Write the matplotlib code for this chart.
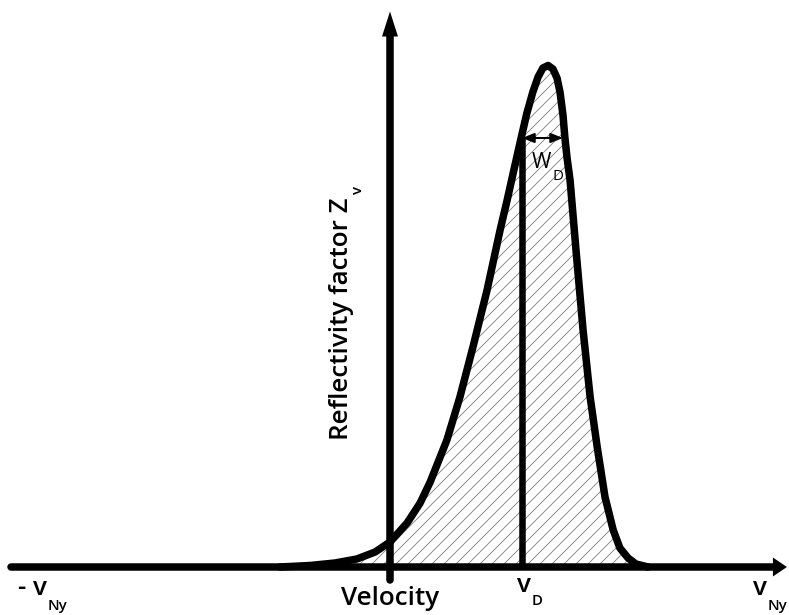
import matplotlib

matplotlib.use("Agg")

import matplotlib.pyplot as plt

# Doppler spectrum sketch: velocity (in units of v_Ny) vs normalised reflectivity
velocity = [-0.296, -0.215, -0.148, -0.089, -0.040, 0.0, 0.046, 0.081, 0.108,
            0.153, 0.188, 0.223, 0.261, 0.296, 0.315, 0.333, 0.350, 0.368,
            0.384, 0.398, 0.411, 0.425, 0.438, 0.449, 0.457, 0.465, 0.470,
            0.476, 0.484, 0.500, 0.519, 0.538, 0.557, 0.578, 0.600, 0.618,
            0.640, 0.661, 0.694]
reflectivity = [0.0, 0.003, 0.008, 0.016, 0.030, 0.050, 0.088, 0.128, 0.170,
                0.254, 0.340, 0.440, 0.554, 0.674, 0.734, 0.794, 0.850, 0.908,
                0.950, 0.980, 0.998, 1.003, 0.996, 0.978, 0.950, 0.904, 0.860,
                0.818, 0.774, 0.634, 0.474, 0.340, 0.240, 0.140, 0.074, 0.038,
                0.018, 0.006, 0.0]

v_nyquist = 1.0
v_doppler = 0.355
z_at_vd = 0.858
w_doppler_end = 0.465

plt.rcParams["font.family"] = ["Open Sans", "DejaVu Sans"]
plt.rcParams["hatch.linewidth"] = 0.9
plt.rcParams["hatch.color"] = "#858585"

fig = plt.figure(figsize=(789 / 72, 615 / 72), dpi=72)
ax = fig.add_axes([0, 0, 1, 1])
ax.set_xlim(-1.0484, 1.0726)
ax.set_ylim(-0.096, 1.134)
ax.axis("off")

# hatched area under the spectrum
ax.fill_between(velocity, reflectivity, 0, facecolor="none", edgecolor="#858585",
                hatch="//", linewidth=0)
ax.plot(velocity, reflectivity, color="black", lw=7.5,
        solid_joinstyle="round", solid_capstyle="round")

# horizontal (velocity) axis
ax.plot([-1.02 * v_nyquist, 1.035 * v_nyquist], [0, 0], color="black", lw=7.5,
        solid_capstyle="round")
ax.annotate("", xy=(1.067 * v_nyquist, 0), xytext=(1.0, 0),
            arrowprops=dict(arrowstyle="-|>,head_length=14,head_width=9.5",
                            mutation_scale=1, lw=0, color="black",
                            shrinkA=0, shrinkB=0))

# vertical (reflectivity) axis
ax.plot([0, 0], [-0.026, 1.065], color="black", lw=7.5, solid_capstyle="round")
ax.annotate("", xy=(0, 1.111), xytext=(0, 1.0),
            arrowprops=dict(arrowstyle="-|>,head_length=25,head_width=8",
                            mutation_scale=1, lw=0, color="black",
                            shrinkA=0, shrinkB=0))

# mean Doppler velocity and spectral width
ax.plot([v_doppler, v_doppler], [0, z_at_vd], color="black", lw=6.5,
        solid_capstyle="butt")
ax.annotate("", xy=(w_doppler_end, z_at_vd), xytext=(v_doppler, z_at_vd),
            arrowprops=dict(arrowstyle="<|-|>,head_length=10,head_width=4",
                            mutation_scale=1, lw=2, color="black",
                            shrinkA=0, shrinkB=0))

main_fs = 26
sub_fs = 15
txt = dict(color="black", fontweight="semibold")

ax.text(0, -0.076, "Velocity", fontsize=main_fs, ha="center", va="baseline", **txt)

ax.text(-1.0, -0.056, "- v", fontsize=main_fs, ha="left", va="baseline", **txt)
ax.text(-0.92, -0.086, "Ny", fontsize=sub_fs, ha="left", va="baseline", **txt)

ax.text(0.976, -0.056, "v", fontsize=main_fs, ha="left", va="baseline", **txt)
ax.text(1.015, -0.086, "Ny", fontsize=sub_fs, ha="left", va="baseline", **txt)

ax.text(0.341, -0.05, "v", fontsize=main_fs, ha="left", va="baseline", **txt)
ax.text(0.381, -0.076, "D", fontsize=sub_fs, ha="left", va="baseline", **txt)

ax.text(0.382, 0.798, "W", fontsize=21, ha="left", va="baseline",
        color="black", fontweight="normal")
ax.text(0.436, 0.774, "D", fontsize=sub_fs, ha="left", va="baseline",
        color="black", fontweight="normal")

label = ax.text(-0.113, 0.254, "Reflectivity factor Z", fontsize=main_fs,
                rotation=90, rotation_mode="anchor", ha="left", va="baseline",
                **txt)

# put the subscript right after the end of the rotated label
fig.canvas.draw()
bb = label.get_window_extent()
_, z_end = ax.transData.inverted().transform((bb.x0, bb.y1))
ax.text(-0.075, z_end + 0.006, "v", fontsize=sub_fs, rotation=90,
        rotation_mode="anchor", ha="left", va="baseline", **txt)

fig.savefig("out.png", dpi=72)
